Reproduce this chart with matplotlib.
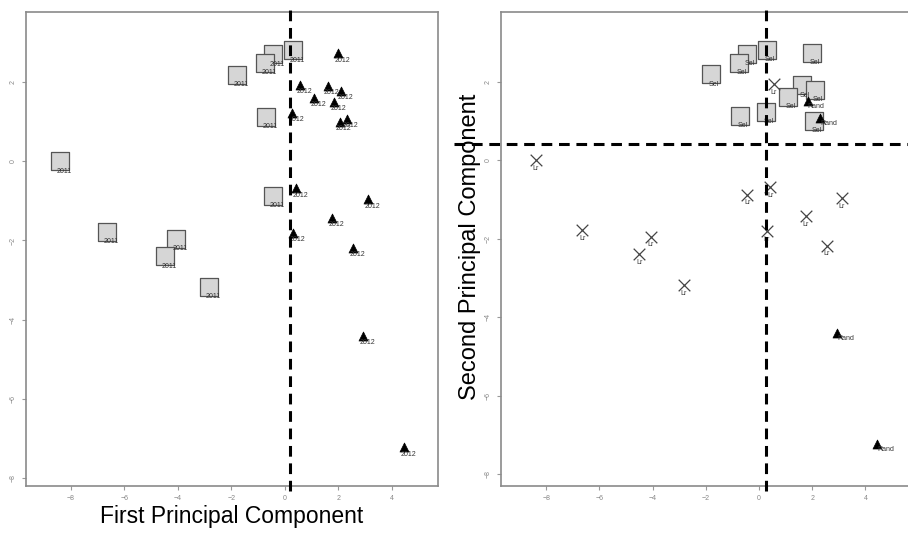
import matplotlib.pyplot as plt

# PCA scores
pc1 = [0.30, -0.45, -0.75, -1.80, -0.70, -8.40, -0.45, -6.65, -4.07, -4.50, -2.83,
       1.98, 0.56, 1.60, 2.10, 1.08, 1.83, 0.26, 2.05, 2.30, 0.42, 3.10, 1.76, 0.30,
       2.54, 2.93, 4.45]
pc2 = [2.80, 2.70, 2.48, 2.18, 1.12, 0.00, -0.88, -1.78, -1.95, -2.40, -3.18,
       2.73, 1.93, 1.90, 1.78, 1.60, 1.50, 1.22, 1.00, 1.07, -0.68, -0.96, -1.42,
       -1.80, -2.18, -4.40, -7.22]
year = ['2011'] * 11 + ['2012'] * 16
site = ['Sel'] * 5 + ['Lr'] * 6 + ['Sel', 'Lr', 'Sel', 'Sel', 'Sel', 'Rand', 'Sel',
                                   'Sel', 'Rand', 'Lr', 'Lr', 'Lr', 'Lr', 'Lr',
                                   'Rand', 'Rand']

# cut-offs drawn as dashed lines
pc1_cut_left = 0.2
pc1_cut_right = 0.25
pc2_cut = 0.4

xticks = [-8, -6, -4, -2, 0, 2, 4]
yticks = [2, 0, -2, -4, -6, -8]

plt.rcParams['font.family'] = ['Liberation Sans', 'DejaVu Sans']

marker_style = {
    'sq': dict(marker='s', s=160, facecolor='#d6d6d6', edgecolor='#555555', linewidths=0.9),
    'tri': dict(marker='^', s=42, facecolor='black', edgecolor='black', linewidths=0.5),
    'x': dict(marker='x', s=70, color='#444444', linewidths=0.9),
}
dash = dict(color='black', lw=2.2, linestyle=(0, (3.5, 2.2)), clip_on=False, zorder=5)


def style_axes(ax, xlim, ylim):
    ax.set_xlim(*xlim)
    ax.set_ylim(*ylim)
    ax.set_xticks(xticks)
    ax.set_yticks(yticks)
    ax.tick_params(colors='#999999', labelcolor='#888888', labelsize=5, length=3, width=0.8)
    for lab in ax.get_yticklabels():
        lab.set_rotation(90)
        lab.set_va('center')
    for sp in ax.spines.values():
        sp.set_color('#8a8a8a')
        sp.set_linewidth(1.2)


def put_labels(ax, idx, texts, dx, dy):
    for i in idx:
        ax.annotate(texts[i], (pc1[i], pc2[i]), xytext=(dx, dy), textcoords='offset points',
                    ha='center', va='center', fontsize=5, color='#333333', zorder=4)


fig = plt.figure(figsize=(9.08, 5.34), dpi=100)

# left panel: grouped by year
ax1 = fig.add_axes([26 / 908, 48 / 534, 412 / 908, 474 / 534])
style_axes(ax1, (-9.68, 5.72), (-8.2, 3.77))
for yr, key in [('2011', 'sq'), ('2012', 'tri')]:
    idx = [i for i in range(len(pc1)) if year[i] == yr]
    ax1.scatter([pc1[i] for i in idx], [pc2[i] for i in idx], zorder=3, **marker_style[key])
    put_labels(ax1, idx, year, 3, -7 if key == 'sq' else -5)
ax1.axvline(pc1_cut_left, ymin=-0.01, ymax=1.015, **dash)
ax1.set_xlabel('First Principal Component', fontsize=16.5, labelpad=2)

# right panel: grouped by site
ax2 = fig.add_axes([501 / 908, 48 / 534, 411 / 908, 474 / 534])
style_axes(ax2, (-9.7, 5.75), (-8.3, 3.77))
ax2.spines['right'].set_visible(False)
for st, key in [('Sel', 'sq'), ('Lr', 'x'), ('Rand', 'tri')]:
    idx = [i for i in range(len(pc1)) if site[i] == st]
    ax2.scatter([pc1[i] for i in idx], [pc2[i] for i in idx], zorder=3, **marker_style[key])
    dx = {'sq': 2, 'x': 0, 'tri': 6}[key]
    dy = {'sq': -7, 'x': -6, 'tri': -4}[key]
    put_labels(ax2, idx, site, dx, dy)
ax2.axvline(pc1_cut_right, ymin=-0.01, ymax=1.015, **dash)
ax2.axhline(pc2_cut, xmin=-0.115, xmax=1.0, **dash)
fig.text(470 / 908, 1 - 247 / 534, 'Second Principal Component', rotation=90,
         ha='center', va='center', fontsize=17)

fig.savefig('out.png', dpi=100)
